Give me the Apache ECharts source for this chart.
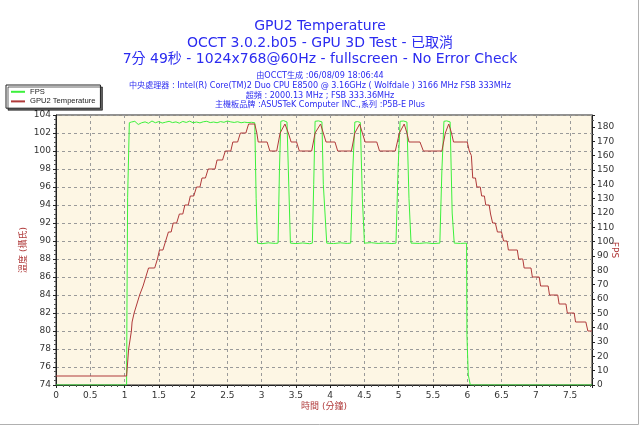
<!DOCTYPE html>
<html>
<head>
<meta charset="utf-8">
<script src="https://cdn.jsdelivr.net/npm/echarts@6/dist/echarts.min.js"></script>
<style>
  html, body { margin: 0; padding: 0; background: #fff; }
  #chart { width: 640px; height: 427px; }
</style>
</head>
<body>
<div id="chart"></div>
<script>
// time in minutes
const fpsTime = [0, 1.03, 1.035, 1.045, 1.06, 1.07, 1.1, 1.15, 1.2, 1.25, 1.3, 1.35, 1.4, 1.45, 1.5, 1.55, 1.6, 1.65, 1.7, 1.75, 1.8, 1.85, 1.9, 1.95, 2.0, 2.05, 2.1, 2.15, 2.2, 2.25, 2.3, 2.35, 2.4, 2.45, 2.5, 2.55, 2.6, 2.65, 2.7, 2.75, 2.8, 2.85, 2.9, 2.92, 2.94, 3.0, 3.1, 3.2, 3.24, 3.26, 3.28, 3.32, 3.37, 3.39, 3.42, 3.5, 3.6, 3.7, 3.74, 3.76, 3.78, 3.83, 3.88, 3.9, 3.95, 4.05, 4.15, 4.25, 4.3, 4.33, 4.36, 4.4, 4.44, 4.47, 4.5, 4.6, 4.7, 4.8, 4.9, 4.96, 4.99, 5.02, 5.07, 5.12, 5.15, 5.18, 5.3, 5.4, 5.5, 5.6, 5.63, 5.66, 5.7, 5.75, 5.78, 5.81, 5.9, 5.99, 5.995, 6.01, 6.015, 6.04, 6.045, 7.82]
const fpsValue = [0, 0, 52, 131, 131, 183, 183.5, 184, 181.8, 183, 183.6, 182.6, 184.2, 183, 183.8, 182.8, 183.4, 184, 183.1, 183.6, 182.7, 183.9, 183.2, 184.1, 183, 183.5, 182.9, 183.7, 184, 183.1, 183.5, 183, 183.8, 183.3, 184.2, 183.6, 183.2, 183.7, 183, 183.4, 183.1, 183.3, 183, 130, 99, 98.6, 99.2, 98.8, 99, 150, 184, 184.5, 183.5, 150, 99, 98.7, 99.1, 98.6, 99, 140, 184, 184.3, 183.6, 140, 99, 98.7, 99.2, 98.8, 99, 150, 183.5, 183.8, 183.2, 130, 99, 99.3, 98.8, 99.1, 98.7, 99, 150, 184, 184.2, 183.5, 130, 99, 98.8, 99.2, 98.7, 99, 150, 184, 184.3, 183.6, 120, 99, 98.8, 99, 35, 35, 7, 7, 0, 0]

const tempTime = [0, 1.03, 1.04, 1.06, 1.08, 1.1, 1.11, 1.13, 1.14, 1.18, 1.22, 1.27, 1.31, 1.35, 1.44, 1.48, 1.51, 1.56, 1.6, 1.64, 1.68, 1.71, 1.76, 1.8, 1.85, 1.88, 1.93, 1.96, 2.01, 2.05, 2.1, 2.13, 2.18, 2.22, 2.32, 2.35, 2.43, 2.47, 2.55, 2.58, 2.65, 2.69, 2.77, 2.81, 2.9, 2.93, 2.95, 3.08, 3.12, 3.22, 3.27, 3.34, 3.39, 3.43, 3.51, 3.55, 3.73, 3.78, 3.86, 3.9, 3.94, 4.07, 4.11, 4.31, 4.36, 4.43, 4.47, 4.51, 4.68, 4.72, 4.95, 5.01, 5.08, 5.12, 5.15, 5.31, 5.36, 5.63, 5.68, 5.73, 5.77, 5.8, 5.95, 6.0, 6.03, 6.06, 6.08, 6.12, 6.14, 6.19, 6.21, 6.25, 6.27, 6.32, 6.34, 6.37, 6.41, 6.44, 6.5, 6.53, 6.58, 6.6, 6.73, 6.75, 6.81, 6.83, 6.93, 6.95, 7.05, 7.07, 7.18, 7.2, 7.32, 7.34, 7.44, 7.46, 7.56, 7.58, 7.73, 7.76, 7.82]
const tempValue = [75, 75, 76, 78, 79, 80, 81, 81, 82, 83, 84, 85, 86, 87, 87, 88, 89, 89, 90, 91, 91, 92, 92, 93, 93, 94, 94, 95, 95, 96, 96, 97, 97, 98, 98, 99, 99, 100, 100, 101, 101, 102, 102, 103, 103, 102, 101, 101, 100, 100, 102, 103, 102, 101, 101, 100, 100, 102, 103, 102, 101, 101, 100, 100, 102, 103, 102, 101, 101, 100, 100, 102, 103, 102, 101, 101, 100, 100, 102, 103, 102, 101, 101, 101, 100, 99.5, 97, 97, 96, 96, 95, 95, 94, 94, 93, 92, 92, 91, 91, 90, 90, 89, 89, 88, 88, 87, 87, 86, 86, 85, 85, 84, 84, 83, 83, 82, 82, 81, 81, 80, 80]

const titleLines = [
  'GPU2 Temperature',
  'OCCT 3.0.2.b05 - GPU 3D Test - 已取消',
  '7分 49秒 - 1024x768@60Hz - fullscreen - No Error Check'
]
const infoLines = [
  '由OCCT生成 :06/08/09 18:06:44',
  '中央處理器 : Intel(R) Core(TM)2 Duo CPU E8500 @ 3.16GHz ( Wolfdale ) 3166 MHz FSB 333MHz',
  '超頻 : 2000.13 MHz ; FSB 333.36MHz',
  '主機板品牌 :ASUSTeK Computer INC.,系列 :P5B-E Plus'
]

const FONT = '"DejaVu Sans", "Noto Sans CJK TC", sans-serif'
const SMALL_FONT = '"Liberation Sans", "Noto Sans CJK TC", sans-serif'
const BLUE = '#2b2bf0'
const RED = '#b03a3a'
const GREEN = '#3cf03c'

const titles = []
const titleTops = [19, 36, 52]
titleLines.forEach((t, i) => {
  titles.push({ text: t, left: 'center', top: titleTops[i], padding: 0,
    textStyle: { fontFamily: FONT, fontSize: 14, fontWeight: 'normal', color: BLUE } })
})
const infoTops = [72, 82, 92, 101]
infoLines.forEach((t, i) => {
  titles.push({ text: t, left: 'center', top: infoTops[i], padding: 0,
    textStyle: { fontFamily: FONT, fontSize: 8.1, fontWeight: 'normal', color: BLUE } })
})

const axisLabelStyle = { fontFamily: FONT, fontSize: 9, color: '#333' }

const chart = echarts.init(document.getElementById('chart'), null, { renderer: 'canvas' })
chart.setOption({
  animation: false,
  backgroundColor: '#fff',
  title: titles,
  legend: {
    orient: 'vertical',
    left: 6,
    top: 85,
    padding: [3, 5, 3, 5],
    itemGap: 2,
    itemWidth: 14,
    itemHeight: 2,
    icon: 'rect',
    backgroundColor: '#fff',
    borderColor: '#222',
    borderWidth: 1,
    shadowColor: 'rgba(0,0,0,0.6)',
    shadowOffsetX: 2,
    shadowOffsetY: 2,
    shadowBlur: 0,
    textStyle: { fontFamily: SMALL_FONT, fontSize: 7.6, color: '#222' },
    data: ['FPS', 'GPU2 Temperature']
  },
  grid: {
    left: 56, right: 48, top: 115, bottom: 42,
    show: true,
    backgroundColor: '#fdf6e4',
    borderColor: '#222',
    borderWidth: 1
  },
  xAxis: {
    type: 'value',
    min: 0, max: 7.82, interval: 0.5,
    name: '時間 (分鐘)',
    nameLocation: 'middle',
    nameGap: 17,
    nameMoveOverlap: false,
    nameTextStyle: { fontFamily: FONT, fontSize: 9, color: RED },
    axisLine: { lineStyle: { color: '#222' } },
    axisTick: { lineStyle: { color: '#222' }, length: 3 },
    minorTick: { show: true, splitNumber: 5, length: 2, lineStyle: { color: '#555' } },
    axisLabel: Object.assign({ showMaxLabel: false, margin: 6 }, axisLabelStyle),
    splitLine: { lineStyle: { color: '#9a9a9a', type: [3, 3] } }
  },
  yAxis: [
    {
      type: 'value',
      min: 74, max: 104, interval: 2,
      name: '溫度 (攝氏)',
      nameLocation: 'middle',
      nameGap: 28,
      nameRotate: 90,
      nameMoveOverlap: false,
      nameTextStyle: { fontFamily: FONT, fontSize: 9, color: RED },
      axisLine: { show: true, lineStyle: { color: '#222' } },
      axisTick: { show: true, lineStyle: { color: '#222' }, length: 3 },
      minorTick: { show: true, splitNumber: 4, length: 2, lineStyle: { color: '#555' } },
      axisLabel: Object.assign({ margin: 5 }, axisLabelStyle),
      splitLine: { lineStyle: { color: '#9a9a9a', type: [3, 3] } }
    },
    {
      type: 'value',
      position: 'right',
      min: 0, max: 188.4, interval: 10,
      name: 'FPS',
      nameLocation: 'middle',
      nameGap: 18,
      nameRotate: -90,
      nameMoveOverlap: false,
      nameTextStyle: { fontFamily: FONT, fontSize: 9, color: RED },
      axisLine: { show: true, lineStyle: { color: '#222' } },
      axisTick: { show: true, lineStyle: { color: '#222' }, length: 3 },
      minorTick: { show: true, splitNumber: 2, length: 2, lineStyle: { color: '#555' } },
      axisLabel: Object.assign({ showMaxLabel: false, margin: 5 }, axisLabelStyle),
      splitLine: { show: false }
    }
  ],
  series: [
    {
      name: 'FPS',
      type: 'line',
      yAxisIndex: 1,
      showSymbol: false,
      color: GREEN,
      lineStyle: { width: 1, color: GREEN },
      data: fpsTime.map((t, i) => [t, fpsValue[i]])
    },
    {
      name: 'GPU2 Temperature',
      type: 'line',
      yAxisIndex: 0,
      showSymbol: false,
      color: RED,
      lineStyle: { width: 1, color: RED },
      data: tempTime.map((t, i) => [t, tempValue[i]])
    }
  ],
  graphic: [
    { type: 'line', shape: { x1: 0, y1: 424.5, x2: 638.5, y2: 424.5 }, style: { stroke: '#b0b0b0', lineWidth: 1 } },
    { type: 'line', shape: { x1: 638.5, y1: 0, x2: 638.5, y2: 424.5 }, style: { stroke: '#b0b0b0', lineWidth: 1 } }
  ]
})
</script>
</body>
</html>
